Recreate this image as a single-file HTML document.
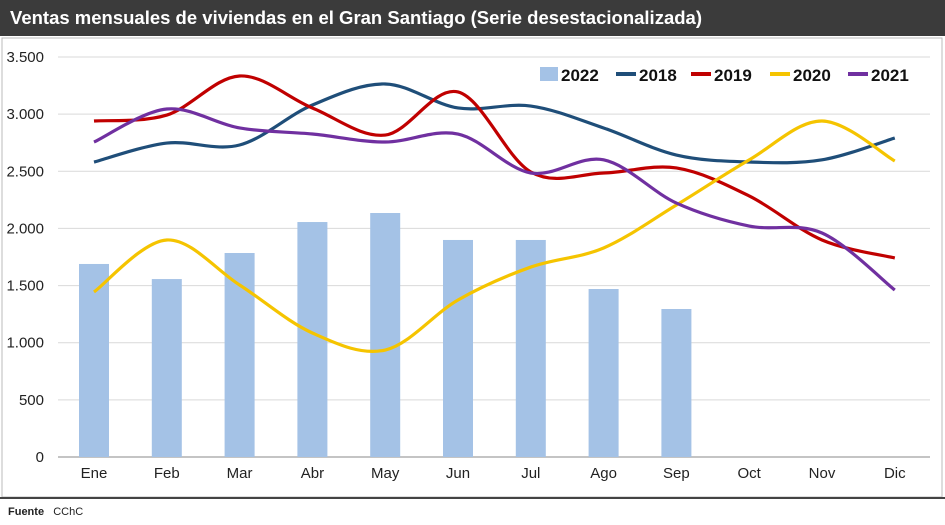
<!DOCTYPE html>
<html><head><meta charset="utf-8"><style>
body{margin:0;background:#fff;font-family:"Liberation Sans",Arial,sans-serif}
#wrap{position:relative;width:945px;height:525px;overflow:hidden}
#title{position:absolute;left:0;top:0;width:945px;height:36px;background:#3b3b3b;color:#fff;font-weight:bold;font-size:18.5px;line-height:36px;padding-left:10px;box-sizing:border-box}
#src{position:absolute;left:8px;top:506px;font-size:11px;color:#222}
</style></head><body>
<div id="wrap">
<div id="title">Ventas mensuales de viviendas en el Gran Santiago (Serie desestacionalizada)</div>
<svg id="chart" width="945" height="525" style="position:absolute;left:0;top:0"></svg>
<div id="src"><b>Fuente</b>&nbsp;&nbsp; CChC</div>
</div>
<script>
const categories=["Ene","Feb","Mar","Abr","May","Jun","Jul","Ago","Sep","Oct","Nov","Dic"];
const yTicks=[0,500,1000,1500,2000,2500,3000,3500];
const yTickLabels=["0","500","1.000","1.500","2.000","2.500","3.000","3.500"];
const bars2022=[1689,1557,1785,2056,2135,1899,1899,1470,1295];
const s2018=[2581,2747,2730,3080,3264,3054,3071,2879,2642,2581,2600,2791];
const s2019=[2940,2992,3334,3054,2817,3194,2494,2485,2529,2284,1899,1741];
const s2020=[1444,1899,1505,1085,936,1374,1662,1829,2205,2600,2940,2590];
const s2021=[2756,3045,2879,2826,2756,2826,2485,2600,2222,2021,1960,1461];
const seriesNames=["2018","2019","2020","2021"];
const seriesColors=["#1f4e79","#c00000","#f5c400","#7030a0"];
const seriesData=[s2018,s2019,s2020,s2021];

const NS="http://www.w3.org/2000/svg";
const svg=document.getElementById('chart');
function mk(t,a,p){const e=document.createElementNS(NS,t);for(const k in a)e.setAttribute(k,a[k]);(p||svg).appendChild(e);return e;}
const x=i=>94+i*72.8;
const y=v=>457-v*400/3500;

mk('rect',{x:2,y:38,width:940,height:459,fill:'none',stroke:'#bbb','stroke-width':1});
mk('line',{x1:0,y1:498,x2:945,y2:498,stroke:'#444','stroke-width':2});
yTicks.forEach((t,i)=>{
  const g=mk('line',{x1:58,x2:930,y1:y(t),y2:y(t),stroke:t===0?'#888':'#d9d9d9','stroke-width':1});
  
  
  const tx=mk('text',{x:44,y:y(t)+5,'text-anchor':'end','font-size':15,fill:'#222'});
  tx.textContent=yTickLabels[i];
  
  
});
categories.forEach((c,i)=>{
  const tx=mk('text',{x:x(i),y:478,'text-anchor':'middle','font-size':15,fill:'#222'});
  tx.textContent=c;
  
  
});
bars2022.forEach((v,i)=>{
  const r=mk('rect',{x:x(i)-15,y:y(v),width:30,height:y(0)-y(v),fill:'#a4c2e6'});
  
  
});
function smooth(pts){
  let d=`M${pts[0][0]},${pts[0][1]}`;
  for(let i=0;i<pts.length-1;i++){
    const p0=pts[Math.max(0,i-1)],p1=pts[i],p2=pts[i+1],p3=pts[Math.min(pts.length-1,i+2)];
    const c1=[p1[0]+(p2[0]-p0[0])/6,p1[1]+(p2[1]-p0[1])/6];
    const c2=[p2[0]-(p3[0]-p1[0])/6,p2[1]-(p3[1]-p1[1])/6];
    d+=` C${c1[0]},${c1[1]} ${c2[0]},${c2[1]} ${p2[0]},${p2[1]}`;
  }
  return d;
}
seriesData.forEach((s,k)=>{
  const p=mk('path',{d:smooth(s.map((v,i)=>[x(i),y(v)])),fill:'none',stroke:seriesColors[k],'stroke-width':3.2});
  
  
});
const legNames=["2022"].concat(seriesNames);
const legColors=["#a4c2e6"].concat(seriesColors);
const legX=[540,616,691,770,848];
legNames.forEach((n,i)=>{
  const g=mk('g',{});
  
  
  if(i===0) mk('rect',{x:legX[i],y:67,width:18,height:14,fill:legColors[i]},g);
  else mk('rect',{x:legX[i],y:72,width:20,height:4,fill:legColors[i]},g);
  const t=mk('text',{x:legX[i]+(i===0?21:23),y:81,'font-size':17,'font-weight':'bold',fill:'#111'},g);
  t.textContent=n;
});
</script>
</body></html>
